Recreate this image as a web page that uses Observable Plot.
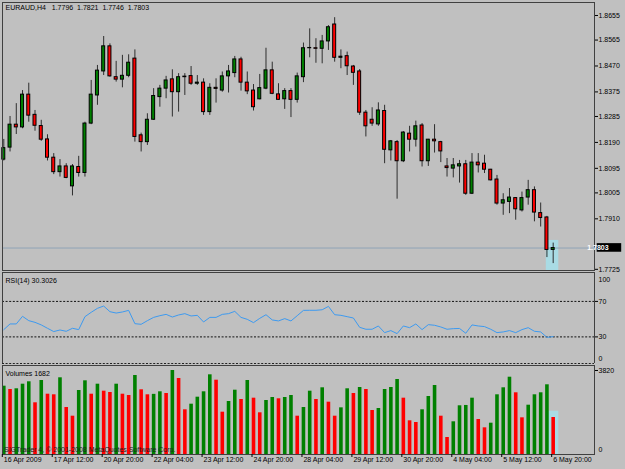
<!DOCTYPE html>
<html><head><meta charset="utf-8">
<script src="https://cdn.jsdelivr.net/npm/d3@7"></script>
<script src="https://cdn.jsdelivr.net/npm/@observablehq/plot@0.6"></script>
<style>
html,body{margin:0;padding:0;background:#c0c0c0;}
#chart{position:relative;width:625px;height:469px;overflow:hidden;background:#c0c0c0;}
#chart svg{position:absolute;left:0;display:block;}
</style></head><body><div id="chart"></div>
<script>
// ---------- data (EURAUD H4) ----------
const symbolLabel = "EURAUD,H4   1.7796  1.7821  1.7746  1.7803";
const rsiLabel = "RSI(14) 30.3026";
const volLabel = "Volumes 1682";
const copyright = "SIGTrader 4, © 2001-2008 MetaQuotes Software Corp.";

const open = [1.8127,1.8171,1.8255,1.8245,1.8365,1.8291,1.8250,1.8201,1.8134,1.8081,
1.8102,1.8029,1.8100,1.8078,1.8259,1.8362,1.8450,1.8542,1.8429,1.8420,
1.8434,1.8497,1.8216,1.8191,1.8273,1.8356,1.8387,1.8421,1.8374,1.8429,
1.8433,1.8405,1.8409,1.8301,1.8390,1.8380,1.8432,1.8444,1.8494,1.8409,
1.8380,1.8348,1.8387,1.8454,1.8366,1.8348,1.8378,1.8346,1.8429,1.8535,
1.8535,1.8533,1.8560,1.8622,1.8500,1.8506,1.8468,1.8450,1.8299,1.8273,
1.8256,1.8305,1.8161,1.8191,1.8121,1.8222,1.8200,1.8252,1.8121,1.8200,
1.8191,1.8102,1.8094,1.8102,1.8110,1.8002,1.8116,1.8112,1.8090,1.8054,
1.7966,1.7972,1.7986,1.7941,1.7988,1.8015,1.7931,1.7915,1.7796];
const high = [1.8201,1.8285,1.8332,1.8380,1.8407,1.8307,1.8271,1.8218,1.8149,1.8127,
1.8112,1.8109,1.8139,1.8264,1.8417,1.8472,1.8578,1.8551,1.8487,1.8509,
1.8511,1.8529,1.8224,1.8295,1.8387,1.8399,1.8432,1.8456,1.8442,1.8442,
1.8468,1.8435,1.8423,1.8405,1.8423,1.8448,1.8472,1.8505,1.8502,1.8448,
1.8402,1.8439,1.8535,1.8484,1.8405,1.8387,1.8387,1.8444,1.8554,1.8606,
1.8570,1.8582,1.8618,1.8647,1.8529,1.8521,1.8472,1.8457,1.8307,1.8317,
1.8335,1.8326,1.8197,1.8197,1.8230,1.8249,1.8268,1.8259,1.8201,1.8255,
1.8194,1.8131,1.8131,1.8124,1.8124,1.8149,1.8149,1.8143,1.8091,1.8069,
1.8002,1.8021,1.7988,1.8008,1.8051,1.8027,1.7968,1.7919,1.7821];
const low = [1.8122,1.8155,1.8219,1.8240,1.8264,1.8231,1.8194,1.8122,1.8072,1.8063,
1.8057,1.7994,1.8063,1.8063,1.8255,1.8326,1.8435,1.8429,1.8411,1.8390,
1.8427,1.8191,1.8155,1.8179,1.8271,1.8319,1.8350,1.8283,1.8301,1.8362,
1.8399,1.8399,1.8289,1.8289,1.8334,1.8374,1.8371,1.8427,1.8378,1.8365,
1.8305,1.8346,1.8383,1.8365,1.8344,1.8311,1.8281,1.8334,1.8409,1.8500,
1.8480,1.8478,1.8527,1.8484,1.8460,1.8435,1.8399,1.8289,1.8210,1.8249,
1.8249,1.8112,1.8122,1.7982,1.8116,1.8155,1.8173,1.8100,1.8102,1.8151,
1.8116,1.8063,1.8060,1.8041,1.7996,1.7999,1.8078,1.8076,1.8049,1.7960,
1.7923,1.7929,1.7905,1.7935,1.7960,1.7899,1.7880,1.7768,1.7746];
const close = [1.8169,1.8255,1.8245,1.8365,1.8288,1.8251,1.8200,1.8134,1.8081,1.8102,
1.8060,1.8102,1.8078,1.8259,1.8365,1.8453,1.8542,1.8432,1.8420,1.8434,
1.8482,1.8210,1.8191,1.8273,1.8360,1.8387,1.8417,1.8374,1.8429,1.8431,
1.8405,1.8409,1.8301,1.8390,1.8386,1.8432,1.8450,1.8494,1.8409,1.8377,
1.8319,1.8389,1.8454,1.8368,1.8346,1.8378,1.8346,1.8432,1.8535,1.8536,
1.8533,1.8560,1.8612,1.8500,1.8504,1.8469,1.8445,1.8299,1.8249,1.8259,
1.8307,1.8163,1.8194,1.8121,1.8226,1.8200,1.8249,1.8121,1.8200,1.8194,
1.8157,1.8096,1.8106,1.8110,1.8002,1.8116,1.8106,1.8090,1.8051,1.7966,
1.7978,1.7988,1.7945,1.7986,1.8015,1.7933,1.7913,1.7796,1.7803];
const volume = [3106,2956,2988,3197,3306,2351,3365,2742,2715,3488,
2137,1742,2910,3351,2742,3197,2879,2820,3197,2742,
2683,3593,2942,2715,2735,2851,2774,3820,3456,2033,
2288,2606,2851,3624,3379,1924,2410,2924,2501,3365,
2561,1896,2456,2592,2533,2592,2683,1742,2137,2879,
2501,3033,2379,1742,2122,2988,2774,3047,2956,2001,
2092,2956,3047,3411,2561,1532,1455,2033,2638,3138,
1742,773,1487,2215,2230,2561,1592,1213,1424,2715,
3033,3515,2806,1668,2242,2715,2806,3170,1682];
const rsi = [38.2,44.6,44.6,53.2,48.3,46.4,43.5,39.7,36.0,37.8,
36.3,39.7,38.2,52.8,57.7,62.2,64.8,58.4,56.9,58.1,
59.9,44.9,44.2,48.3,52.0,53.9,55.4,52.4,54.7,56.2,
53.6,54.3,46.8,52.0,52.0,55.4,56.2,58.8,52.0,49.8,
46.1,50.9,55.0,49.1,48.0,50.6,48.0,53.9,59.9,60.0,
60.0,60.6,64.4,55.0,54.3,52.8,51.3,40.8,38.6,38.6,
42.3,34.8,37.1,33.7,42.3,40.4,44.6,38.2,43.8,43.1,
41.2,38.6,39.3,39.5,34.1,43.5,42.3,41.6,38.6,34.8,
35.6,37.1,34.8,38.2,40.4,36.3,35.6,29.5,30.3026];

const timeLabelIdx = [0,8,16,24,32,40,48,56,64,72,80,88];
const timeLabels = ["16 Apr 2009","17 Apr 12:00","20 Apr 20:00","22 Apr 04:00","23 Apr 12:00","24 Apr 20:00",
  "28 Apr 04:00","29 Apr 12:00","30 Apr 20:00","4 May 04:00","5 May 12:00","6 May 20:00"];
const priceTicks = [1.8655,1.8565,1.8470,1.8375,1.8285,1.8190,1.8095,1.8005,1.7910,1.7725];
const rsiLevels = [70,30];
const rsiTop = 100, rsiBottom = 0;
const volTop = 3820, volBottom = 0;
const highlightPrice = 1.7831;   // top of the selection box on the last bar
const highlightVolume = 1966;

// ---------- set-up ----------
const W = 625;
const xDomain = [-0.208, 94.62];
const priceDomain = [1.77207, 1.87026];
const rsiDomain = [0, 102.6];
const volDomain = [0, 4047];
const up = "#008000", down = "#ff0000";
const frameColor = "#404040";
const font = "'Liberation Sans', Arial, sans-serif";
const style = {background: "transparent", fontFamily: font, fontSize: "7px", color: "#000", overflow: "visible"};
const bars = open.map((o, i) => ({i, open: o, high: high[i], low: low[i], close: close[i], volume: volume[i], rsi: rsi[i]}));
const last = bars[bars.length - 1];
const labelMap = new Map(timeLabelIdx.map((d, k) => [d, timeLabels[k]]));
const common = {width: W, marginLeft: 2, marginRight: 31, style};

function priceBox(value) {
  return (index, scales, values, dimensions) => {
    const y = scales.y(value);
    const x = dimensions.width - dimensions.marginRight + 2.7;
    const g = d3.create("svg:g");
    g.append("rect").attr("x", x).attr("y", y - 4.4).attr("width", 24.5).attr("height", 8.6).attr("fill", "#000");
    g.append("text").attr("x", x + 1.2).attr("y", y).attr("dy", "0.35em")
      .style("fill", "#ffffff").style("font-size", "7px").style("font-family", font).style("font-weight", "bold")
      .text(value.toFixed(4));
    return g.node();
  };
}

// ---------- main price panel ----------
const main = Plot.plot({
  ...common, height: 272, marginTop: 2, marginBottom: 2,
  x: {domain: xDomain, axis: null, label: null},
  y: {domain: priceDomain, label: null},
  marks: [
    Plot.rect([last], {x1: d => d.i - 1.1, x2: d => d.i + 0.9, y1: priceDomain[0], y2: highlightPrice, fill: "#a9dbe4"}),
    Plot.ruleY([last.close], {stroke: "#8fa4b6", strokeWidth: 1}),
    Plot.ruleX(bars, {x: "i", y1: "low", y2: "high", stroke: "#2e2e2e", strokeWidth: 1}),
    Plot.rect(bars, {x1: d => d.i - 0.24, x2: d => d.i + 0.24, y1: "open", y2: "close",
      fill: d => d.close >= d.open ? up : down, stroke: "#000", strokeWidth: 1}),
    Plot.frame({stroke: frameColor}),
    Plot.axisY({anchor: "right", ticks: priceTicks, tickFormat: d => d.toFixed(4), tickSize: 3, tickPadding: 1, label: null}),
    priceBox(last.close),
    Plot.text([symbolLabel], {text: d => d, frameAnchor: "top-left", textAnchor: "start", lineAnchor: "middle", dx: 3, dy: 5.7, fill: "#000"})
  ]
});
main.style.top = "0px";

// ---------- RSI panel ----------
const rsiPlot = Plot.plot({
  ...common, height: 92, marginTop: 0, marginBottom: 1,
  x: {domain: xDomain, axis: null, label: null},
  y: {domain: rsiDomain, label: null},
  marks: [
    Plot.ruleY(rsiLevels, {stroke: "#111", strokeDasharray: "2,1.6"}),
    Plot.ruleY([rsiDomain[0]], {stroke: "#222", strokeDasharray: "2,1.6"}),
    Plot.ruleY([rsiDomain[1]], {stroke: frameColor}),
    Plot.ruleX(xDomain, {stroke: frameColor}),
    Plot.line(bars, {x: "i", y: "rsi", stroke: "#3d9af0", strokeWidth: 1}),
    Plot.axisY({anchor: "right", ticks: rsiLevels, tickSize: 3, tickPadding: 1, tickFormat: d => String(d), label: null}),
    Plot.text([rsiTop], {y: d => d, text: d => String(d), frameAnchor: "right", textAnchor: "start", dx: 4, dy: 5, fill: "#000"}),
    Plot.text([rsiBottom], {y: d => d, text: d => String(d), frameAnchor: "right", textAnchor: "start", dx: 4, dy: -4.7, fill: "#000"}),
    Plot.text([rsiLabel], {text: d => d, frameAnchor: "top-left", textAnchor: "start", lineAnchor: "middle", dx: 3, dy: 8.7, fill: "#000"})
  ]
});
rsiPlot.style.top = "272px";

// ---------- Volume panel ----------
const volPlot = Plot.plot({
  ...common, height: 105, marginTop: 1, marginBottom: 15,
  x: {domain: xDomain, label: null},
  y: {domain: volDomain, label: null},
  marks: [
    Plot.rect([last], {x1: d => d.i - 0.7, x2: d => d.i + 0.9, y1: 0, y2: highlightVolume, fill: "#a9dbe4"}),
    Plot.ruleX(bars, {x: "i", y1: 0, y2: "volume", strokeWidth: 3.6,
      stroke: d => (d.i === 0 || d.volume > volume[d.i - 1]) ? up : down}),
    Plot.text([copyright], {text: d => d, frameAnchor: "bottom-left", textAnchor: "start", lineAnchor: "middle", dx: 1.5, dy: -4.8, fill: "#1e1e1e"}),
    Plot.frame({stroke: frameColor}),
    Plot.axisY({anchor: "right", ticks: [volTop], tickSize: 3, tickPadding: 1, tickFormat: d => String(d), label: null}),
    Plot.text([volBottom], {y: d => d, text: d => String(d), frameAnchor: "right", textAnchor: "start", dx: 4, dy: -5, fill: "#000"}),
    Plot.axisX({ticks: timeLabelIdx, tickSize: 3, fill: "none", stroke: "#000", dx: -1.5, label: null}),
    Plot.axisX({ticks: timeLabelIdx, tickSize: 0, tickPadding: 3, tickFormat: d => labelMap.get(d), textAnchor: "start", fill: "#000", label: null}),
    Plot.text([volLabel], {text: d => d, frameAnchor: "top-left", textAnchor: "start", lineAnchor: "middle", dx: 3, dy: 8.3, fill: "#000"})
  ]
});
volPlot.style.top = "364px";

const chart = document.getElementById("chart");
chart.append(main, rsiPlot, volPlot);
</script>
</body></html>
